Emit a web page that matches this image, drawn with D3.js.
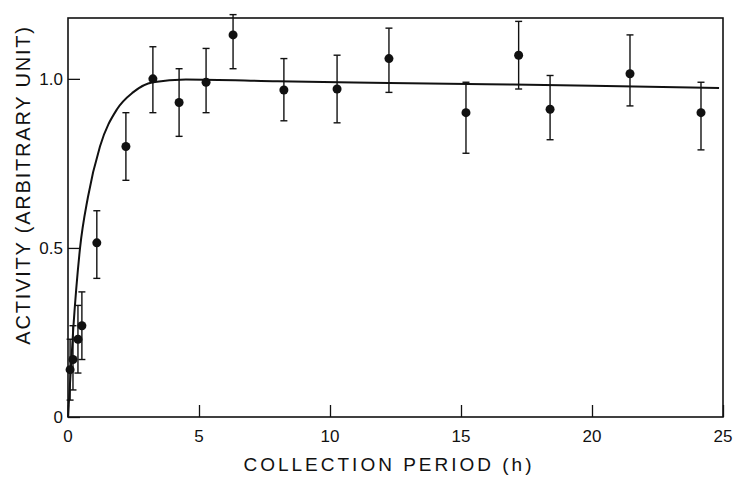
<!DOCTYPE html>
<html>
<head>
<meta charset="utf-8">
<script src="https://cdn.jsdelivr.net/npm/d3@7"></script>
<style>
  body { margin: 0; background: #fff; }
  text { font-family: "Liberation Sans", Arial, sans-serif; fill: #111; }
</style>
</head>
<body>
<svg id="chart" width="734" height="484"></svg>
<script>
// measured points: time (h), activity, error bar low / high
const pointT = [0.08, 0.19, 0.38, 0.53, 1.1, 2.21, 3.24, 4.24, 5.27, 6.3, 8.24, 10.27, 12.25, 15.19, 17.2, 18.4, 21.45, 24.16]
const pointA = [0.14, 0.17, 0.23, 0.27, 0.515, 0.80, 1.0, 0.93, 0.99, 1.13, 0.967, 0.97, 1.06, 0.90, 1.07, 0.91, 1.015, 0.90]
const pointLo = [0.05, 0.08, 0.13, 0.17, 0.41, 0.70, 0.90, 0.83, 0.90, 1.03, 0.876, 0.87, 0.96, 0.78, 0.97, 0.82, 0.92, 0.79]
const pointHi = [0.23, 0.27, 0.33, 0.37, 0.61, 0.90, 1.095, 1.03, 1.09, 1.19, 1.06, 1.07, 1.15, 0.99, 1.17, 1.01, 1.13, 0.99]

// fitted curve
const curveT = [0, 0.2, 0.46, 0.76, 1.22, 1.87, 2.48, 3.24, 4.5, 8, 12.25, 16, 20, 24.85]
const curveA = [0, 0.26, 0.5, 0.65, 0.80, 0.91, 0.96, 0.99, 0.998, 0.993, 0.988, 0.984, 0.98, 0.973]

const xTicks = [0, 5, 10, 15, 20, 25]
const yTicks = [0, 0.5, 1.0]
const yTickLabels = ['0', '0.5', '1.0']

const svg = d3.select('#chart')
const plotLeft = 68, plotRight = 723, plotTop = 18, plotBottom = 417

const xScale = d3.scaleLinear().domain([0, 25]).range([plotLeft, plotRight])
const yScale = d3.scaleLinear().domain([0, 1.18]).range([plotBottom, plotTop])

// frame
svg.append('rect')
  .attr('x', plotLeft).attr('y', plotTop)
  .attr('width', plotRight - plotLeft).attr('height', plotBottom - plotTop)
  .attr('fill', 'none').attr('stroke', '#111').attr('stroke-width', 1.6)

// x axis, ticks pointing inward
const xAxis = svg.append('g')
  .attr('transform', `translate(0, ${plotBottom})`)
  .call(d3.axisTop(xScale).tickValues(xTicks).tickSize(12).tickFormat(''))
xAxis.select('path.domain').remove()
xAxis.selectAll('.tick line').attr('stroke', '#111').attr('stroke-width', 1.3)

svg.selectAll('.xlab')
  .data(xTicks)
  .enter()
  .append('text')
  .attr('x', d => xScale(d))
  .attr('y', plotBottom + 25)
  .attr('text-anchor', 'middle')
  .style('font-size', '17px')
  .text(d => d)

// y axis, ticks pointing inward
const yAxis = svg.append('g')
  .attr('transform', `translate(${plotLeft}, 0)`)
  .call(d3.axisRight(yScale).tickValues(yTicks).tickSize(12).tickFormat(''))
yAxis.select('path.domain').remove()
yAxis.selectAll('.tick line').attr('stroke', '#111').attr('stroke-width', 1.3)

svg.selectAll('.ylab')
  .data(yTicks)
  .enter()
  .append('text')
  .attr('x', plotLeft - 5)
  .attr('y', d => yScale(d) + 6)
  .attr('text-anchor', 'end')
  .style('font-size', '17px')
  .text((d, i) => yTickLabels[i])

// curve
const line = d3.line()
  .x(d => xScale(d[0]))
  .y(d => yScale(d[1]))
  .curve(d3.curveMonotoneX)

svg.append('path')
  .datum(curveT.map((t, i) => [t, curveA[i]]))
  .attr('d', line)
  .attr('fill', 'none')
  .attr('stroke', '#111')
  .attr('stroke-width', 2)

// error bars
const bars = svg.selectAll('.bar')
  .data(pointT)
  .enter()
  .append('g')

bars.append('line')
  .attr('x1', d => xScale(d)).attr('x2', d => xScale(d))
  .attr('y1', (d, i) => yScale(pointLo[i])).attr('y2', (d, i) => yScale(pointHi[i]))
  .attr('stroke', '#111').attr('stroke-width', 1.4)

bars.append('line')
  .attr('x1', d => xScale(d) - 3.5).attr('x2', d => xScale(d) + 3.5)
  .attr('y1', (d, i) => yScale(pointHi[i])).attr('y2', (d, i) => yScale(pointHi[i]))
  .attr('stroke', '#111').attr('stroke-width', 1.4)

bars.append('line')
  .attr('x1', d => xScale(d) - 3.5).attr('x2', d => xScale(d) + 3.5)
  .attr('y1', (d, i) => yScale(pointLo[i])).attr('y2', (d, i) => yScale(pointLo[i]))
  .attr('stroke', '#111').attr('stroke-width', 1.4)

// dots
svg.selectAll('.dot')
  .data(pointT)
  .enter()
  .append('circle')
  .attr('cx', d => xScale(d))
  .attr('cy', (d, i) => yScale(pointA[i]))
  .attr('r', 4.5)
  .attr('fill', '#111')

// axis titles
svg.append('text')
  .attr('x', 389)
  .attr('y', 471)
  .attr('text-anchor', 'middle')
  .style('font-size', '19px')
  .style('letter-spacing', '3px')
  .text('COLLECTION PERIOD (h)')

svg.append('text')
  .attr('transform', 'rotate(-90)')
  .attr('x', -185)
  .attr('y', 30)
  .attr('text-anchor', 'middle')
  .style('font-size', '20px')
  .style('letter-spacing', '1.8px')
  .text('ACTIVITY (ARBITRARY UNIT)')
</script>
</body>
</html>
